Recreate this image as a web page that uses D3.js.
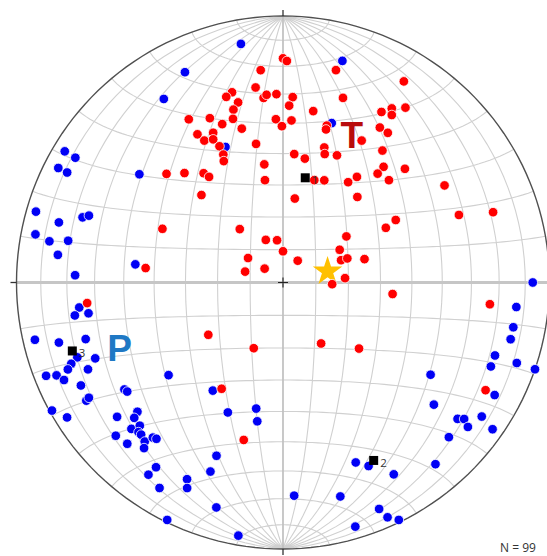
<!DOCTYPE html>
<html>
<head>
<meta charset="utf-8">
<script src="https://cdn.jsdelivr.net/npm/d3@7"></script>
<style>
  html, body { margin: 0; padding: 0; background: #fff; }
  svg { display: block; }
</style>
</head>
<body>
<svg id="net" width="547" height="556"></svg>
<script>
// Lower-hemisphere equal-area (Schmidt) net of P and T axes.
// Each axis is [trend, plunge] in degrees.

const tAxes = [
  [0,17],[1,18],[354,21],[14,19],[31,13],[352,27],[345,27],[343,28],[346,31],[354,31],
  [355,30],[358,30],[3,31],[18,28],[344,33],[2,34],[10,35],[30,27],[32,24],[33,26],
  [35,21],[330,30],[336,33],[343,36],[339,36.5],[357.5,38.6],[3,39],[359.6,41],[345,40],[15.6,38.8],
  [15.7,40.1],[32,32],[35,32],[330,36],[335,38],[331,39],[334,40],[335,43],[349,46],[29,39],
  [17,46],[18,48],[37,38],[335,46],[334,48],[5,50],[10,51],[23,47],[351,53],[41,42],
  [47,37.5],[313,40],[318,44],[324,48],[325,50],[41,45],[350,58],[35,50],[33,53],[22,56],
  [17,57],[46,44],[59,30],[317,53],[8,64],[41,55],[69,30],[71.5,18],[61,50],[62,54],
  [294,49],[321,69],[54,66],[338,76],[352,77],[0,80.5],[60,70],[305,77],[286,78],[307,83],
  [276,47],[34,82],[69,71],[69.5,69],[74,64],[86,71],[92,75],[96,56],[96,23],[264,27],
  [235,62],[204,68],[148,68],[131,59],[210,52],[194,39],[118,15]
];

const pAxes = [
  [350,10],[15,15],[335,14],[327,19],[17,37.5],[337,44],[301,5],[301,10],[297,6],[297,10],
  [307,33],[286,4],[285,14],[288,22],[289,24],[281,6],[280,12],[281,19],[277,16],[272,23],
  [277,43.5],[263,24],[261,27],[261,22],[254,24],[257,5],[255,14],[250,19],[248,25],[249,16],
  [248,14],[248.5,5],[247.7,9],[246,11],[246,21],[231,44],[243,16],[236,29],[235,29.4],[213,50],
  [239,15],[239.3,16.4],[241,1],[238,5],[231,21],[228.4,27.8],[227.7,25.5],[203,46],[192,50],[190.5,46],
  [226,22],[225,25],[224,23],[223,23],[227.5,16],[221,22],[220,25],[219,25.5],[224,17],[220,20],
  [201,31],[214.5,17],[201,25],[215,13],[206,19],[211,11],[205,16],[196.5,13],[206,1],[190,4],
  [90,7],[96,13],[101,13],[104,13],[109,17],[109,8],[112,17],[109,0],[122,35],[118,11],
  [129,28],[128,18],[127,16],[124,11],[128,13],[125,4.5],[133,16],[158,28],[155,25],[150,18],
  [140,12],[177,21],[165,18],[157,8.5],[156,4],[154,1],[163.5,5]
];

// principal strain axes 1, 2, 3
const principalAxes = [[12,57],[153,26],[252,18]];
const principalLabels = ["1","2","3"];

// mean axis (star)
const meanAxis = [76,76];

const groupLabels = ["T","P"];
const countLabel = "N = 99";

const svg = d3.select("#net");
const cx = 283, cy = 282.5, R = 266.5;

// Equatorial-aspect azimuthal equal-area: centre = vertical, rim = horizontal
const proj = d3.geoAzimuthalEqualArea()
  .rotate([0,0])
  .scale(R / Math.SQRT2)
  .translate([cx, cy])
  .clipAngle(90)
  .precision(0.1);
const path = d3.geoPath(proj);

const rad = Math.PI / 180;
// trend/plunge -> [lon, lat] on the net sphere
function toLonLat(trend, plunge) {
  const t = trend * rad, p = plunge * rad;
  const n = Math.cos(p) * Math.cos(t), e = Math.cos(p) * Math.sin(t), d = Math.sin(p);
  return [Math.atan2(e, d) / rad, Math.asin(Math.max(-1, Math.min(1, n))) / rad];
}
const pos = a => proj(toLonLat(a[0], a[1]));

// grid
const grat = d3.geoGraticule()
  .extentMinor([[-180,-90],[180,90]])
  .extentMajor([[-180,-90],[180,90]])
  .step([10,10]);
svg.append("path")
  .datum(grat())
  .attr("d", path)
  .attr("fill", "none")
  .attr("stroke", "#d0d0d0")
  .attr("stroke-width", 1.1);

// E-W line and N-S line
svg.append("path")
  .datum({type:"LineString", coordinates: d3.range(-90, 90.01, 1).map(l => [l, 0])})
  .attr("d", path).attr("fill","none").attr("stroke","#c6c6c6").attr("stroke-width", 2.8);
svg.append("path")
  .datum({type:"LineString", coordinates: d3.range(-90, 90.01, 1).map(l => [0, l])})
  .attr("d", path).attr("fill","none").attr("stroke","#bdbdbd").attr("stroke-width", 1.4);

// primitive circle
svg.append("path")
  .datum({type:"Sphere"})
  .attr("d", path)
  .attr("fill","none")
  .attr("stroke","#505050")
  .attr("stroke-width", 1.4);

// ticks at N, W, S
const tickLen = 6;
[[0,90,0,-1],[-90,0,-1,0],[0,-90,0,1]].forEach(([lo,la,ux,uy]) => {
  const p = proj([lo, la]);
  svg.append("line")
    .attr("x1", p[0]).attr("y1", p[1])
    .attr("x2", p[0] + ux*tickLen).attr("y2", p[1] + uy*tickLen)
    .attr("stroke","#333").attr("stroke-width", 1.3);
});

// centre cross
const c0 = proj([0,0]);
svg.append("path")
  .attr("d", `M${c0[0]-5},${c0[1]}H${c0[0]+5}M${c0[0]},${c0[1]-5}V${c0[1]+5}`)
  .attr("stroke","#222").attr("stroke-width", 1.1);

// mean axis star
const sp = pos(meanAxis);
svg.append("path")
  .attr("d", d3.symbol(d3.symbolStar, 270)())
  .attr("transform", `translate(${sp[0]},${sp[1]})`)
  .attr("fill", "#ffc000");

// P axes
svg.append("g").selectAll("circle")
  .data(pAxes).join("circle")
  .attr("cx", d => pos(d)[0]).attr("cy", d => pos(d)[1])
  .attr("r", 4.8)
  .attr("fill", "#0000f5")
  .attr("stroke", "#fff").attr("stroke-width", 0.8);

// T axes
svg.append("g").selectAll("circle")
  .data(tAxes).join("circle")
  .attr("cx", d => pos(d)[0]).attr("cy", d => pos(d)[1])
  .attr("r", 4.8)
  .attr("fill", "#ff0000")
  .attr("stroke", "#fff").attr("stroke-width", 0.8);

// principal axes
const pg = svg.append("g");
principalAxes.forEach((a, i) => {
  const p = pos(a);
  pg.append("path")
    .attr("d", d3.symbol(d3.symbolSquare, 81)())
    .attr("transform", `translate(${p[0]},${p[1]})`)
    .attr("fill", "#000");
  pg.append("text")
    .attr("x", p[0] + 6.5).attr("y", p[1] + 6.5)
    .attr("font-family", "'Open Sans', 'Liberation Sans', sans-serif")
    .attr("font-size", 11.5)
    .attr("fill", "#333")
    .text(principalLabels[i]);
});

// group letters
svg.append("text")
  .attr("x", 351.7).attr("y", 148.3)
  .attr("text-anchor", "middle")
  .attr("font-family", "'Liberation Sans', Arial, sans-serif")
  .attr("font-weight", "bold")
  .attr("font-size", 37)
  .attr("fill", "#b80c0c")
  .text(groupLabels[0]);
svg.append("text")
  .attr("x", 119.7).attr("y", 360.7)
  .attr("text-anchor", "middle")
  .attr("font-family", "'Liberation Sans', Arial, sans-serif")
  .attr("font-weight", "bold")
  .attr("font-size", 37)
  .attr("fill", "#1f78c4")
  .text(groupLabels[1]);

// count
svg.append("text")
  .attr("x", 500).attr("y", 552)
  .attr("font-family", "'Open Sans', 'Liberation Sans', sans-serif")
  .attr("font-size", 12)
  .attr("fill", "#333")
  .text(countLabel);
</script>
</body>
</html>
